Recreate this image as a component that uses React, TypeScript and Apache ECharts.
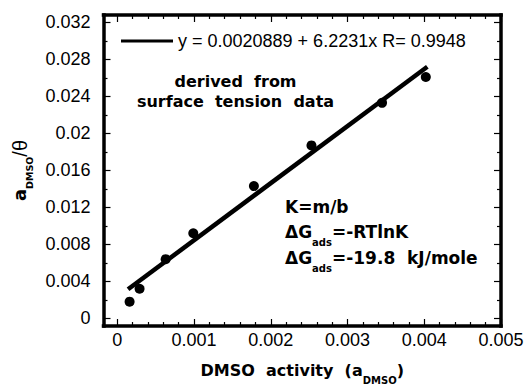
import React, { useEffect, useRef } from "react";
import * as echarts from "echarts";

// DMSO activity (x) and a_DMSO/θ (y)
const activity = [0.00016, 0.00029, 0.00063, 0.00099, 0.00178, 0.00253, 0.00345, 0.00402];
const ratio = [0.0018, 0.0032, 0.0064, 0.0092, 0.0143, 0.0187, 0.0233, 0.0261];
// fitted line end points
const fitX = [0.00014, 0.00404];
const fitY = [0.00314, 0.0272];
const fitLabel = "y = 0.0020889 + 6.2231x R= 0.9948";

const xMajorTicks = [0, 0.001, 0.002, 0.003, 0.004, 0.005];
const yMajorTicks = [0, 0.004, 0.008, 0.012, 0.016, 0.02, 0.024, 0.028, 0.032];

const X_MIN = -0.00018;
const X_MAX = 0.005;
const Y_MIN = -0.00083;
const Y_MAX = 0.0328;

const REG = "'Liberation Sans', Arial, Helvetica, sans-serif";
const BOLD = "'DejaVu Sans', 'Liberation Sans', sans-serif";

function minorsOf(majors: number[], parts: number) {
  const out: number[] = [];
  for (let i = 0; i < majors.length - 1; i++) {
    const step = (majors[i + 1] - majors[i]) / parts;
    for (let k = 1; k < parts; k++) out.push(+(majors[i] + step * k).toFixed(6));
  }
  return out;
}
const xMinorTicks = minorsOf(xMajorTicks, 5);
const yMinorTicks = minorsOf(yMajorTicks, 2);

const fmt = (v: number) => (v === 0 ? "0" : String(+v.toFixed(4)));

function makeAxis(
  dim: "x" | "y",
  position: string,
  ticks: number[],
  major: boolean,
  labels: boolean,
  extra: any = {}
) {
  return {
    type: "value",
    position,
    min: dim === "x" ? X_MIN : Y_MIN,
    max: dim === "x" ? X_MAX : Y_MAX,
    axisLine: {
      show: major,
      onZero: false,
      lineStyle: { color: "#000", width: 3.5, cap: "square" },
    },
    axisTick: {
      show: true,
      inside: true,
      length: major ? 7 : 4,
      customValues: ticks,
      lineStyle: { color: "#000", width: 1.2 },
    },
    axisLabel: labels
      ? {
          show: true,
          customValues: ticks,
          formatter: fmt,
          color: "#000",
          fontSize: 18,
          fontFamily: REG,
          margin: dim === "x" ? 5 : 13,
        }
      : { show: false },
    splitLine: { show: false },
    minorTick: { show: false },
    ...extra,
  };
}

export default function App() {
  const ref = useRef<HTMLDivElement>(null);
  useEffect(() => {
    if (!ref.current) return;
    const chart = echarts.init(ref.current, null, { renderer: "svg" });
    const points = activity.map((x, i) => [x, ratio[i]]);
    const fit = fitX.map((x, i) => [x, fitY[i]]);
    const subRich = (size: number) => ({
      m: { fontSize: 17, fontWeight: "bold", fontFamily: BOLD, fill: "#000" },
      s: { fontSize: size, fontWeight: "bold", fontFamily: BOLD, fill: "#000", padding: [20, 0, 0, 0] },
    });
    chart.setOption({
      animation: false,
      backgroundColor: "#fff",
      grid: {
        left: 103.5,
        right: 24,
        top: 15,
        bottom: 59,
        containLabel: false,
        outerBoundsMode: "none",
      },
      legend: {
        show: true,
        data: [{ name: fitLabel, icon: "rect" }],
        left: 121,
        top: 32,
        itemWidth: 52,
        itemHeight: 3,
        itemGap: 0,
        padding: 0,
        textStyle: { color: "#000", fontSize: 18, fontFamily: REG },
      },
      xAxis: [
        makeAxis("x", "bottom", xMajorTicks, true, true, {
          name: "{m|DMSO  activity  (a}{s|DMSO}{m|)}",
          nameLocation: "middle",
          nameGap: 29,
          nameTextStyle: {
            color: "#000",
            rich: {
              m: { fontSize: 16, fontWeight: "bold", fontFamily: BOLD, color: "#000" },
              s: { fontSize: 10, fontWeight: "bold", fontFamily: BOLD, color: "#000", padding: [20, 0, 0, 0] },
            },
          },
        }),
        makeAxis("x", "bottom", xMinorTicks, false, false),
        makeAxis("x", "top", xMajorTicks, true, false),
        makeAxis("x", "top", xMinorTicks, false, false),
      ],
      yAxis: [
        makeAxis("y", "left", yMajorTicks, true, true, {
          name: "{a|a}{s|DMSO}{t|/θ}",
          nameLocation: "middle",
          nameRotate: 90,
          nameGap: 68,
          nameTextStyle: {
            color: "#000",
            rich: {
              a: { fontSize: 18, fontWeight: "bold", fontFamily: BOLD, color: "#000" },
              s: { fontSize: 9.5, fontWeight: "bold", fontFamily: BOLD, color: "#000", padding: [20, 0, 0, 0] },
              t: { fontSize: 20, fontFamily: REG, color: "#000" },
            },
          },
        }),
        makeAxis("y", "left", yMinorTicks, false, false),
        makeAxis("y", "right", yMajorTicks, true, false),
        makeAxis("y", "right", yMinorTicks, false, false),
      ],
      series: [
        {
          name: fitLabel,
          type: "line",
          xAxisIndex: 0,
          yAxisIndex: 0,
          data: fit,
          symbol: "none",
          lineStyle: { color: "#000", width: 4.5 },
          itemStyle: { color: "#000" },
          z: 3,
        },
        {
          name: "data",
          type: "scatter",
          xAxisIndex: 0,
          yAxisIndex: 0,
          data: points,
          symbol: "circle",
          symbolSize: 10,
          itemStyle: { color: "#000", opacity: 1 },
          z: 4,
        },
      ],
      graphic: [
        {
          type: "text",
          x: 235.5,
          y: 81.5,
          style: {
            text: "derived  from",
            font: `bold 16px ${BOLD}`,
            fill: "#000",
            align: "center",
            verticalAlign: "middle",
          },
        },
        {
          type: "text",
          x: 235.5,
          y: 101.5,
          style: {
            text: "surface  tension  data",
            font: `bold 16px ${BOLD}`,
            fill: "#000",
            align: "center",
            verticalAlign: "middle",
          },
        },
        {
          type: "text",
          x: 285,
          y: 207,
          style: {
            text: "K=m/b",
            font: `bold 17px ${BOLD}`,
            fill: "#000",
            align: "left",
            verticalAlign: "middle",
          },
        },
        {
          type: "text",
          x: 285,
          y: 232,
          style: {
            text: "{m|ΔG}{s|ads}{m|=-RTlnK}",
            fill: "#000",
            align: "left",
            verticalAlign: "middle",
            rich: subRich(10),
          },
        },
        {
          type: "text",
          x: 285,
          y: 258,
          style: {
            text: "{m|ΔG}{s|ads}{m|=-19.8  kJ/mole}",
            fill: "#000",
            align: "left",
            verticalAlign: "middle",
            rich: subRich(10),
          },
        },
      ],
    });
    return () => chart.dispose();
  }, []);
  return (
    <div
      ref={ref}
      style={{ position: "absolute", left: 0, top: 0, width: 525, height: 385 }}
    />
  );
}
